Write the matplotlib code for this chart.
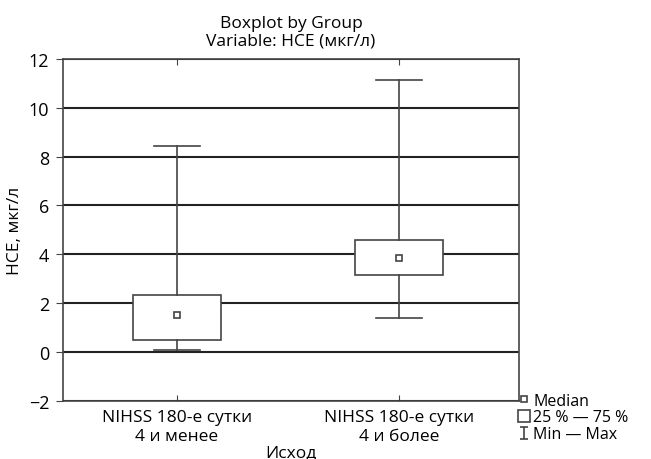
import matplotlib
matplotlib.use("Agg")
import matplotlib.pyplot as plt
from matplotlib.lines import Line2D
from matplotlib.path import Path

plt.rcParams['font.family'] = ['Open Sans', 'DejaVu Sans']

groups = ["NIHSS 180-е сутки\n4 и менее", "NIHSS 180-е сутки\n4 и более"]
mins = [0.07, 1.39]
q1 = [0.5, 3.15]
medians = [1.5, 3.84]
q3 = [2.33, 4.57]
maxs = [8.45, 11.15]
yticks = [-2, 0, 2, 4, 6, 8, 10, 12]

col = '#444444'
lw = 1.2

fig = plt.figure(figsize=(6.51, 4.60), dpi=100)
ax = fig.add_axes([0.097, 0.126, 0.700, 0.744])

stats = []
for i in range(len(groups)):
    stats.append(dict(med=medians[i], q1=q1[i], q3=q3[i],
                      whislo=mins[i], whishi=maxs[i], fliers=[]))

pos = list(range(1, len(groups) + 1))
ax.bxp(stats, positions=pos, widths=0.4, showfliers=False, zorder=3,
       patch_artist=True,
       boxprops=dict(facecolor='white', edgecolor=col, linewidth=lw),
       whiskerprops=dict(color=col, linewidth=lw),
       capprops=dict(color=col, linewidth=lw),
       medianprops=dict(linewidth=0),
       capwidths=0.21)
ax.plot(pos, medians, 's', ms=5, mfc='white', mec=col, mew=1.2, zorder=4)

ax.set_ylim(-2, 12)
ax.set_xlim(0.487, 2.54)
ax.set_yticks(yticks)
ax.set_yticklabels([str(t).replace('-', '\u2212') for t in yticks])
ax.set_xticks(pos)
ax.set_xticklabels(groups)
ax.grid(axis='y', color='#222222', linewidth=1.5, zorder=0)
ax.set_axisbelow(True)
for s in ax.spines.values():
    s.set_color(col)
    s.set_linewidth(1.2)
ax.tick_params(axis='y', length=5, color=col, labelsize=13, pad=5)
ax.tick_params(axis='x', labelsize=12.5, pad=6, top=True, bottom=True,
               direction='in', length=4, color=col)

ax.set_ylabel("НСЕ, мкг/л", fontsize=12.5, labelpad=4)
ax.set_xlabel("Исход", fontsize=12.5, labelpad=0)
ax.set_title("Boxplot by Group\nVariable: НСЕ (мкг/л)", fontsize=12.5,
             linespacing=1.2, pad=10)

# I-beam glyph for the Min-Max legend entry
ibeam = Path([(-0.8, -1), (0.8, -1), (0, -1), (0, 1), (-0.8, 1), (0.8, 1)],
             [Path.MOVETO, Path.LINETO, Path.MOVETO, Path.LINETO,
              Path.MOVETO, Path.LINETO])
handles = [
    Line2D([], [], marker='s', ls='none', ms=5, mfc='white', mec=col, mew=1.2),
    Line2D([], [], marker='s', ls='none', ms=9, mfc='white', mec=col, mew=1.2),
    Line2D([], [], marker=ibeam, ls='none', ms=8, mec=col, mew=1.2),
]
labels = ["Median", "25 % \u2014 75 %", "Min \u2014 Max"]
ax.legend(handles, labels, loc='lower left', bbox_to_anchor=(1.0, -0.12),
          frameon=False, fontsize=11.5, handlelength=0.6, handletextpad=0.3,
          labelspacing=0.05, borderpad=0, borderaxespad=0)

fig.savefig("out.png", dpi=100)
